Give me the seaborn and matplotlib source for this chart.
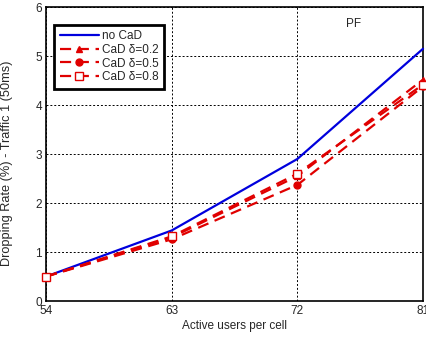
import matplotlib
matplotlib.use("Agg")
import matplotlib.pyplot as plt
import seaborn as sns
import pandas as pd

users = [54, 63, 72, 81]
no_cad = [0.5, 1.44, 2.90, 5.15]
cad_02 = [0.5, 1.30, 2.55, 4.52]
cad_05 = [0.5, 1.26, 2.37, 4.38]
cad_08 = [0.5, 1.32, 2.60, 4.42]
labels = ["no CaD", "CaD δ=0.2", "CaD δ=0.5", "CaD δ=0.8"]

sns.set_style("ticks")
plt.rcParams["font.family"] = ["Liberation Sans", "DejaVu Sans"]

fig = plt.figure(figsize=(4.26, 3.39), dpi=100)
ax = fig.add_axes([0.108, 0.112, 0.885, 0.867])

red = "#e00000"
dash = (0, (5, 3))
series = [no_cad, cad_02, cad_05, cad_08]
styles = [
    dict(color="#0000dd", linestyle="-"),
    dict(color=red, linestyle=dash, marker="^", markersize=5,
         markerfacecolor=red, markeredgecolor=red, markeredgewidth=1),
    dict(color=red, linestyle=dash, marker="o", markersize=5,
         markerfacecolor=red, markeredgecolor=red, markeredgewidth=1),
    dict(color=red, linestyle=dash, marker="s", markersize=6,
         markerfacecolor="white", markeredgecolor=red, markeredgewidth=1),
]
for vals, lab, st in zip(series, labels, styles):
    df = pd.DataFrame({"users": users, "rate": vals})
    sns.lineplot(data=df, x="users", y="rate", ax=ax, label=lab,
                 linewidth=1.6, clip_on=False, zorder=3, **st)

ax.set_xlim(54, 81)
ax.set_ylim(0, 6)
ax.set_xticks(users)
ax.set_yticks(range(0, 7))
ax.tick_params(labelsize=8.5, length=0, pad=3)
ax.grid(True, color="black", linestyle=(0, (2, 2)), linewidth=0.7)
for s in ax.spines.values():
    s.set_color("black")
    s.set_linewidth(1.2)
ax.set_xlabel("Active users per cell", fontsize=8.5, labelpad=2)
ax.set_ylabel("Dropping Rate (%) - Traffic 1 (50ms)", fontsize=9.2)
ax.yaxis.set_label_coords(-0.088, 0.47)
ax.text(76.0, 5.65, "PF", fontsize=8.5, ha="center", va="center")

leg = ax.legend(loc="upper left", bbox_to_anchor=(0.022, 0.94), fontsize=8.5,
                frameon=True, fancybox=False, handlelength=3.3,
                handletextpad=0.3, borderpad=0.45, labelspacing=0.15,
                borderaxespad=0)
leg.get_frame().set_edgecolor("black")
leg.get_frame().set_linewidth(2)
leg.get_frame().set_alpha(1)

fig.savefig("out.png", dpi=100)
